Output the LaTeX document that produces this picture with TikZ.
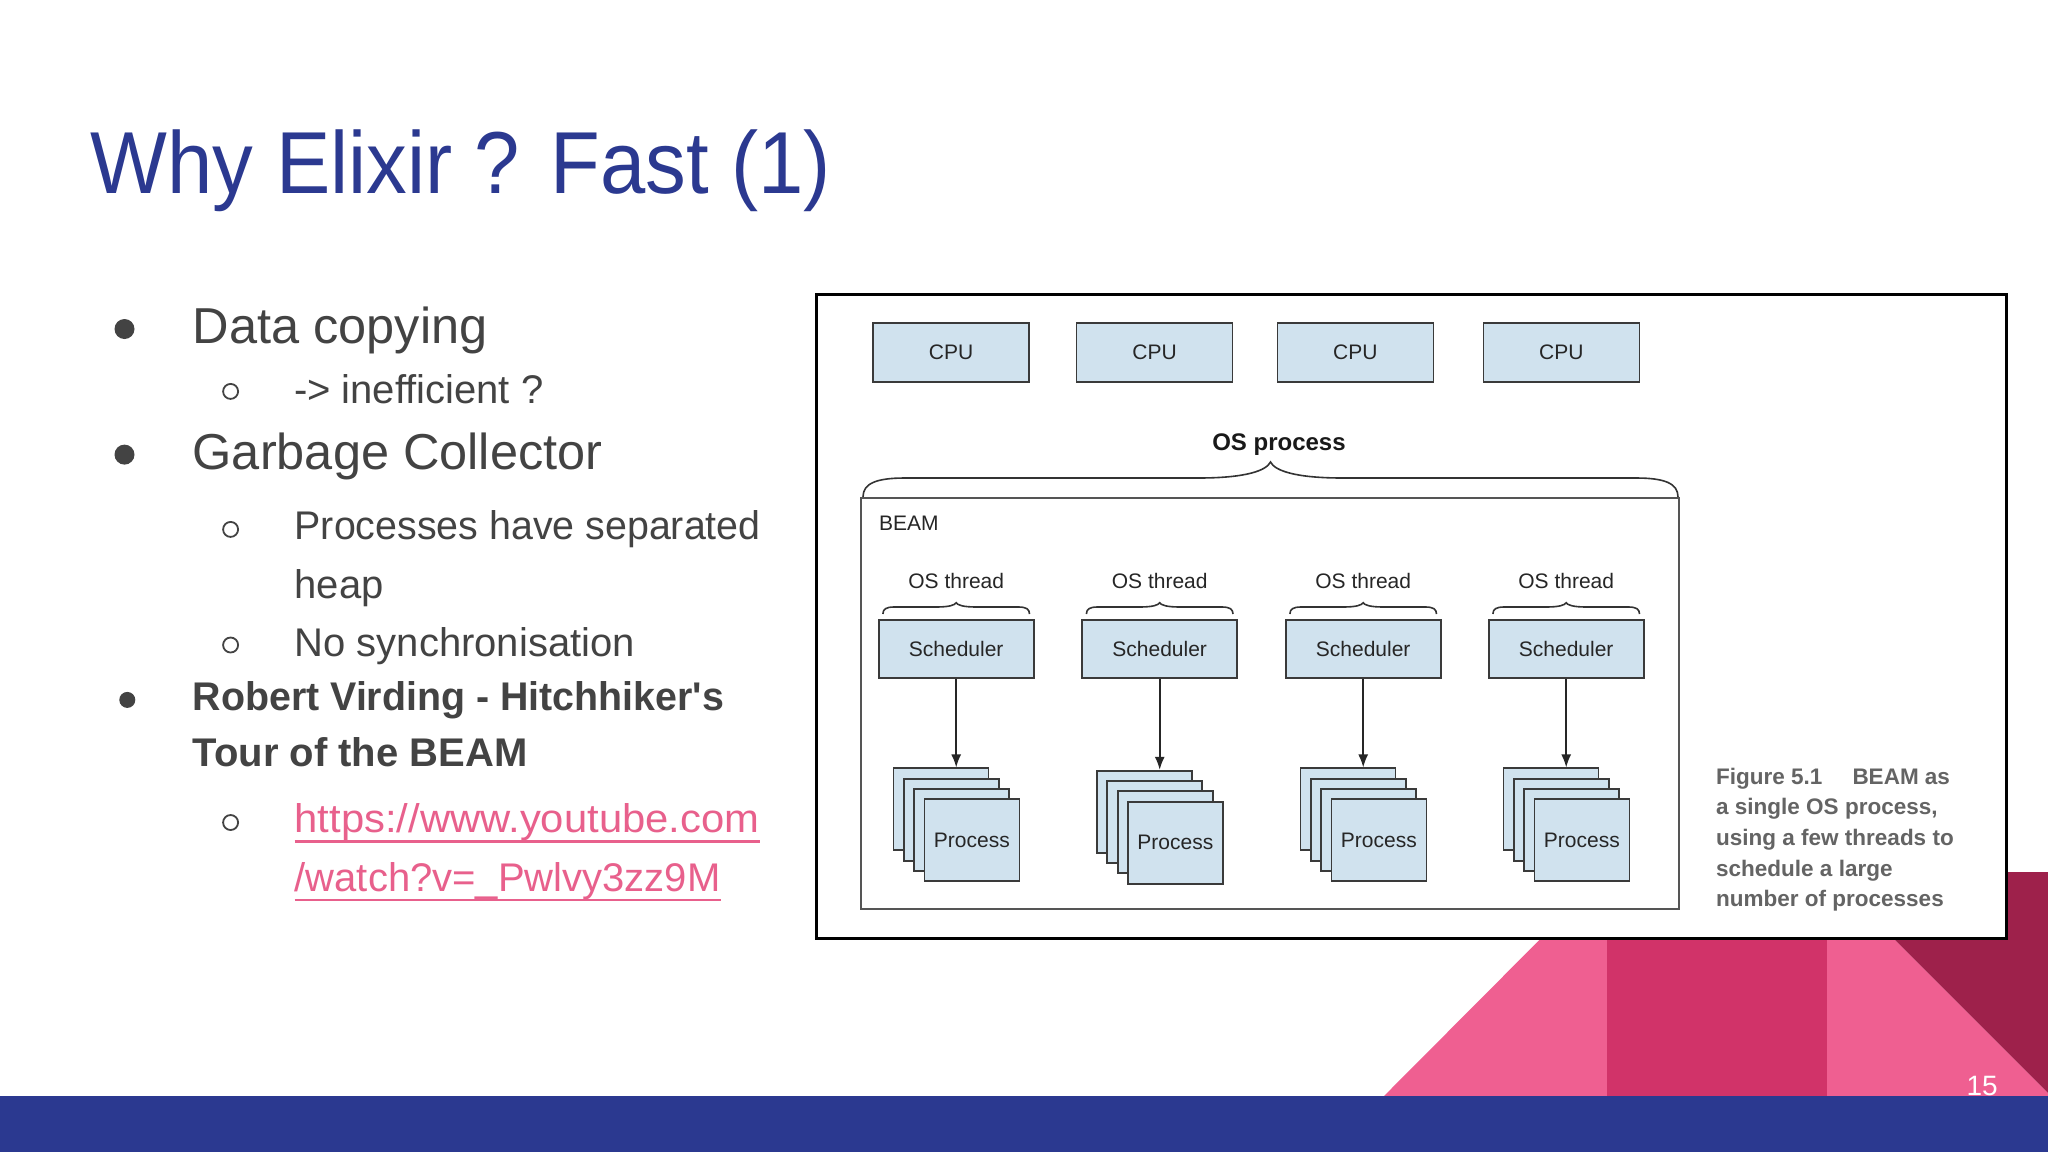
\documentclass[tikz,border=0pt]{standalone}
\usepackage{fontspec}
\setmainfont{Liberation Sans}
\newfontfamily\slidefont{Liberation Sans}
\newfontfamily\slidenarrow[FakeStretch=0.984]{Liberation Sans}
\newfontfamily\linkwide[FakeStretch=1.045]{Liberation Sans}
\newfontfamily\titlefont[FakeStretch=0.925]{Liberation Sans}
\usetikzlibrary{arrows.meta,calc}
\definecolor{titleblue}{HTML}{2B3990}
\definecolor{bodygray}{HTML}{434343}
\definecolor{linkpink}{HTML}{E8608C}
\definecolor{boxfill}{HTML}{D0E2EE}
\definecolor{boxline}{HTML}{3A3A3A}
\definecolor{lightpink}{HTML}{EF5F91}
\definecolor{darkpink}{HTML}{D13369}
\definecolor{maroonc}{HTML}{9E214B}
\definecolor{capgray}{HTML}{646464}
\definecolor{beamline}{HTML}{555555}

\newcommand{\DrawBrace}[7]{% x1,x2,yend,yflat,ytip,curl,tipspan
  \pgfmathsetmacro\bxl{#1}%
  \pgfmathsetmacro\bxr{#2}%
  \pgfmathsetmacro\bxa{#1+#6}%
  \pgfmathsetmacro\bxb{#2-#6}%
  \pgfmathsetmacro\bxm{(#1+#2)/2}%
  \pgfmathsetmacro\bxc{\bxm-#7}%
  \pgfmathsetmacro\bxd{\bxm+#7}%
  \pgfmathsetmacro\bxcc{\bxm-0.35*#7}%
  \pgfmathsetmacro\bxdd{\bxm+0.35*#7}%
  \pgfmathsetmacro\bxae{#1+0.3*#6}%
  \pgfmathsetmacro\bxbe{#2-0.3*#6}%
  \pgfmathsetmacro\bye{#4+0.3*(#3-#4)}%
  \pgfmathsetmacro\byt{#4-0.45*(#4-#5)}%
  \pgfmathsetmacro\bmm{\bxm-0.06*#7}%
  \pgfmathsetmacro\bmp{\bxm+0.06*#7}%
  \draw[braceline] (\bxl,#3) .. controls (\bxl,\bye) and (\bxae,#4) .. (\bxa,#4)
     -- (\bxc,#4) .. controls (\bxcc,#4) and (\bmm,\byt) .. (\bxm,#5)
     .. controls (\bmp,\byt) and (\bxdd,#4) .. (\bxd,#4)
     -- (\bxb,#4) .. controls (\bxbe,#4) and (\bxr,\bye) .. (\bxr,#3);
}

\tikzset{
  diagbox/.style={draw=boxline, fill=boxfill, line width=1.8pt, inner sep=0pt,
    font=\fontsize{21}{25}\selectfont, text=black!85},
  procbox/.style={diagbox, minimum width=95, minimum height=82},
  difftext/.style={inner sep=0pt, font=\fontsize{21}{25}\selectfont, text=black!85},
  braceline/.style={draw=black!80, line width=1.6pt},
  arrowline/.style={draw=black!85, line width=1.6pt, -{Latex[length=13pt,width=10pt]}},
  bigtext/.style={inner sep=0pt, anchor=base west, text=bodygray, font=\slidefont\fontsize{50.5}{60}\selectfont},
  subtext/.style={inner sep=0pt, anchor=base west, text=bodygray, font=\slidefont\fontsize{40}{48}\selectfont},
  boldtext/.style={inner sep=0pt, anchor=base west, text=bodygray, font=\slidefont\bfseries\fontsize{40}{48}\selectfont},
  linktext/.style={inner sep=0pt, anchor=base west, text=linkpink, font=\slidefont\fontsize{40}{48}\selectfont},
  bigdot/.style={circle, fill=bodygray, inner sep=0pt, minimum size=20},
  smalldot/.style={circle, fill=bodygray, inner sep=0pt, minimum size=16},
  ring/.style={circle, draw=bodygray, line width=1.8pt, inner sep=0pt, minimum size=15},
  captext/.style={inner sep=0pt, anchor=base west, text=capgray, font=\bfseries\fontsize{22.5}{30}\selectfont},
}

\begin{document}
\begin{tikzpicture}[x=1pt,y=-1pt]
\useasboundingbox (0,0) rectangle (2048,1152);
\fill[white] (0,0) rectangle (2048,1152);

% decorative shapes bottom right
\fill[lightpink] (1384,1096) -- (1607,872) -- (1607,1096) -- cycle;
\fill[darkpink] (1607,872) rectangle (1827,1096);
\fill[lightpink] (1827,872) -- (2048,1093) -- (2048,1096) -- (1827,1096) -- cycle;
\fill[maroonc] (1827,872) -- (2048,872) -- (2048,1093) -- cycle;
\fill[titleblue] (0,1096) rectangle (2048,1152);
\node[inner sep=0pt, anchor=base east, text=white, font=\slidefont\fontsize{28}{32}\selectfont] (pagenum) at (1998,1095) {15};

% title
\node[inner sep=0pt, anchor=base west, text=titleblue, font=\titlefont\fontsize{88}{100}\selectfont] (title) at (90.5,193) {Why Elixir ? Fast (1)};

% left bullets
\node[bigdot] (b1) at (124.5,329) {};
\node[bigtext] (t1) at (192.5,343.2) {Data copying};
\node[ring] (r1) at (230.6,391.4) {};
\node[subtext] (t2) at (293.8,403.5) {-> inefficient ?};
\node[bigdot] (b2) at (124.5,454.6) {};
\node[bigtext] (t3) at (192.5,469.1) {Garbage Collector};
\node[ring] (r2) at (230.6,529.4) {};
\node[subtext, font=\slidenarrow\fontsize{40}{48}\selectfont] (t4) at (294.5,539.8) {Processes have separated};
\node[subtext] (t5) at (294.5,598) {heap};
\node[ring] (r3) at (230.6,645) {};
\node[subtext] (t6) at (294.5,656.2) {No synchronisation};
\node[smalldot] (b3) at (127.3,699.9) {};
\node[boldtext, font=\slidenarrow\bfseries\fontsize{40}{48}\selectfont] (t7) at (192.5,710.2) {Robert Virding - Hitchhiker\textquotesingle s};
\node[boldtext] (t8) at (192.5,766.4) {Tour of the BEAM};
\node[ring] (r4) at (230.6,822.5) {};
\node[linktext, font=\linkwide\fontsize{40}{48}\selectfont] (l1) at (294.5,832.9) {https://www.youtube.com};
\node[linktext] (l2) at (294.5,891.1) {/watch?v=\_Pwlvy3zz9M};
\draw[linkpink, line width=2.6pt] ([yshift=-8.5pt]l1.base west) -- ([yshift=-8.5pt]l1.base east);
\draw[linkpink, line width=2.6pt] ([yshift=-9pt]l2.base west) -- ([yshift=-9pt]l2.base east);

% figure frame
\node[draw=black, fill=white, line width=3pt, minimum width=1190, minimum height=644, inner sep=0pt] (frame) at (1411,616) {};

% CPUs
\foreach \i/\cx in {1/951,2/1154.5,3/1355.4,4/1561.4}
  \node[diagbox, minimum width=156, minimum height=59] (c\i) at (\cx,352.2) {CPU};

% OS process
\node[inner sep=0pt, anchor=base, font=\bfseries\fontsize{24}{28}\selectfont, text=black!90] (osp) at (1279,450.7) {OS process};
\DrawBrace{863}{1678}{497}{478}{462}{42}{72}

% BEAM box
\node[draw=beamline, fill=white, line width=2pt, minimum width=818, minimum height=411, inner sep=0pt] (beam) at (1270,703.5) {};
\node[difftext, anchor=base west] (beamlbl) at (879,530) {BEAM};

% schedulers and processes
\foreach \i/\sx/\dy in {1/956.2/0,2/1159.7/2.4,3/1363.2/0,4/1566.2/0} {
  \node[difftext, anchor=base] (o\i) at (\sx,588) {OS thread};
  \DrawBrace{\sx-73.3}{\sx+73.3}{614}{607}{602.7}{11}{20}
  \node[diagbox, minimum width=155, minimum height=58] (s\i) at (\sx,649) {Scheduler};
  \foreach \j in {0,1,2} {
    \node[procbox] (p\i\j) at ({\sx-62.7+\j*10.3+47.5},{768.3+\dy+\j*10.3+41}) {};
  }
  \node[procbox] (p\i3) at ({\sx-62.7+3*10.3+47.5},{768.3+\dy+3*10.3+41}) {Process};
  \draw[arrowline] (s\i.south) -- (s\i.south |- p\i0.north);
}

% caption
\node[captext] (cap1) at (1716,784.3) {Figure 5.1\hspace{30pt}BEAM as};
\node[captext] (cap2) at (1716,814.5) {a single OS process,};
\node[captext] (cap3) at (1716,845.5) {using a few threads to};
\node[captext] (cap4) at (1716,876) {schedule a large};
\node[captext] (cap5) at (1716,906.7) {number of processes};
\end{tikzpicture}
\end{document}
